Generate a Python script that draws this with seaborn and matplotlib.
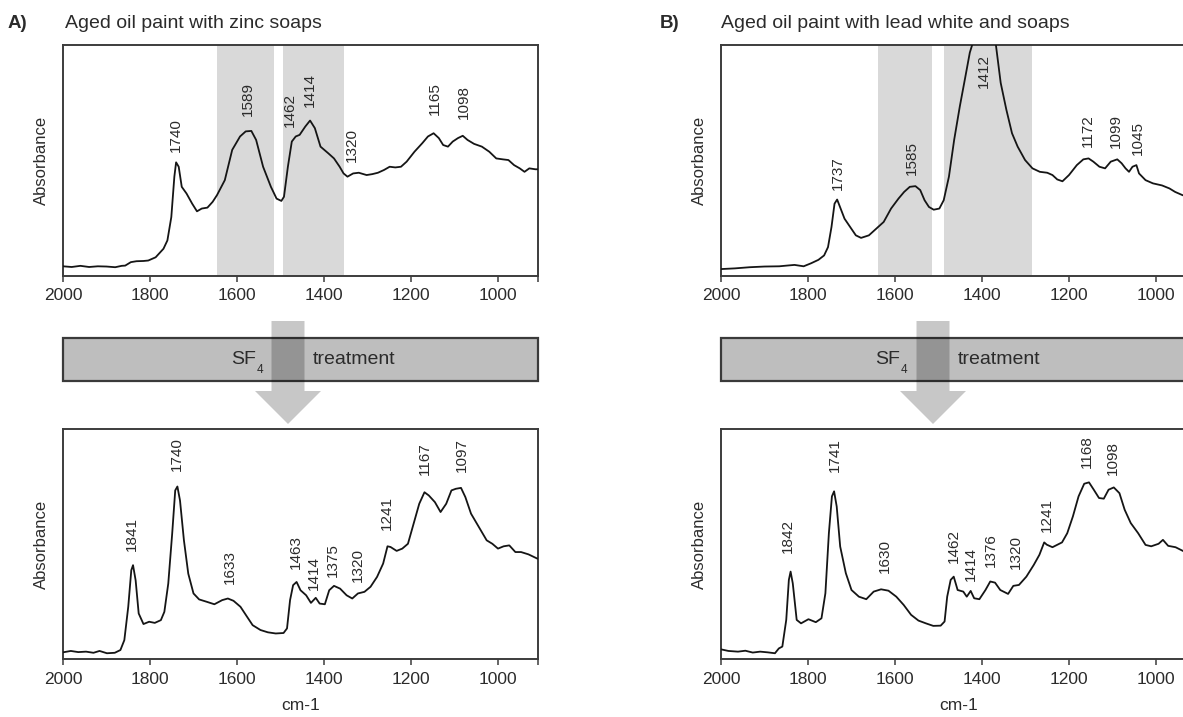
import numpy as np
import pandas as pd
import matplotlib
matplotlib.use("Agg")
import matplotlib.pyplot as plt
from matplotlib.patches import Rectangle, Polygon
import seaborn as sns

# ---------------- data ----------------
a_top_wn = [2000, 1980, 1960, 1940, 1920, 1900, 1880, 1865, 1857, 1844, 1831, 1815, 1804, 1787,
            1769, 1760, 1751, 1744, 1740, 1734, 1727, 1716, 1703, 1692, 1681, 1668, 1656, 1646,
            1628, 1611, 1593, 1580, 1567, 1556, 1540, 1522, 1509, 1498, 1492, 1483, 1474, 1465,
            1456, 1443, 1432, 1421, 1408, 1390, 1377, 1364, 1355, 1346, 1333, 1320, 1302, 1289,
            1276, 1262, 1249, 1236, 1223, 1210, 1192, 1174, 1161, 1148, 1136, 1126, 1115, 1104,
            1092, 1081, 1070, 1055, 1037, 1020, 1004, 989, 976, 963, 950, 939, 928, 914, 908]
a_top_abs = [0.042, 0.039, 0.044, 0.039, 0.042, 0.041, 0.038, 0.044, 0.045, 0.060, 0.064, 0.065,
             0.067, 0.081, 0.118, 0.154, 0.255, 0.430, 0.492, 0.473, 0.386, 0.357, 0.313, 0.280,
             0.292, 0.296, 0.321, 0.350, 0.415, 0.546, 0.604, 0.626, 0.628, 0.589, 0.473, 0.386,
             0.335, 0.325, 0.343, 0.473, 0.582, 0.604, 0.611, 0.647, 0.673, 0.640, 0.560, 0.531,
             0.509, 0.473, 0.444, 0.430, 0.444, 0.447, 0.437, 0.441, 0.447, 0.459, 0.473, 0.470,
             0.473, 0.495, 0.538, 0.575, 0.604, 0.618, 0.597, 0.567, 0.560, 0.582, 0.597, 0.607,
             0.589, 0.572, 0.560, 0.538, 0.509, 0.505, 0.502, 0.480, 0.466, 0.451, 0.466, 0.462,
             0.462]
a_top_peaks = ["1740", "1589", "1462", "1414", "1320", "1165", "1098"]
a_top_peak_x = [1740, 1575, 1478, 1433, 1336, 1144, 1078]
a_top_peak_y = [0.538, 0.691, 0.644, 0.731, 0.492, 0.698, 0.679]
a_top_bands = [(1646, 1515), (1495, 1353)]

b_top_wn = [2000, 1968, 1934, 1900, 1866, 1849, 1831, 1810, 1793, 1776, 1763, 1754, 1746, 1739,
            1733, 1725, 1716, 1703, 1690, 1678, 1660, 1643, 1626, 1609, 1592, 1579, 1566, 1553,
            1542, 1532, 1522, 1511, 1498, 1488, 1476, 1464, 1451, 1438, 1428, 1421, 1396, 1368,
            1357, 1344, 1331, 1318, 1301, 1284, 1267, 1250, 1238, 1227, 1215, 1200, 1182, 1167,
            1155, 1144, 1130, 1117, 1104, 1089, 1079, 1070, 1062, 1054, 1045, 1039, 1024, 1007,
            986, 969, 956, 939, 925, 908]
b_top_abs = [0.030, 0.033, 0.038, 0.041, 0.042, 0.045, 0.048, 0.042, 0.055, 0.070, 0.089, 0.125,
             0.212, 0.313, 0.331, 0.292, 0.248, 0.212, 0.176, 0.165, 0.176, 0.205, 0.234, 0.292,
             0.335, 0.364, 0.386, 0.389, 0.372, 0.328, 0.299, 0.287, 0.292, 0.328, 0.430, 0.589,
             0.734, 0.865, 0.967, 1.010, 1.200, 1.000, 0.836, 0.720, 0.618, 0.560, 0.502, 0.466,
             0.451, 0.447, 0.437, 0.418, 0.410, 0.437, 0.480, 0.505, 0.509, 0.495, 0.473, 0.466,
             0.495, 0.505, 0.488, 0.466, 0.451, 0.473, 0.480, 0.444, 0.415, 0.401, 0.392, 0.379,
             0.364, 0.350, 0.343, 0.340]
b_top_peaks = ["1737", "1585", "1412", "1172", "1099", "1045"]
b_top_peak_x = [1731, 1562, 1395, 1156, 1092, 1042]
b_top_peak_y = [0.372, 0.437, 0.814, 0.560, 0.553, 0.524]
b_top_bands = [(1639, 1514), (1488, 1286)]

a_bot_wn = [2000, 1982, 1965, 1947, 1930, 1916, 1899, 1881, 1868, 1859, 1850, 1843, 1839, 1833,
            1826, 1815, 1802, 1789, 1775, 1767, 1758, 1749, 1742, 1737, 1731, 1722, 1712, 1700,
            1687, 1670, 1652, 1634, 1621, 1608, 1592, 1577, 1564, 1546, 1529, 1511, 1493, 1485,
            1478, 1471, 1463, 1454, 1441, 1430, 1419, 1410, 1398, 1388, 1377, 1363, 1348, 1335,
            1322, 1307, 1293, 1278, 1264, 1254, 1247, 1233, 1220, 1207, 1194, 1181, 1169, 1159,
            1145, 1132, 1119, 1107, 1097, 1085, 1075, 1062, 1044, 1026, 1013, 1000, 987, 974,
            960, 947, 930, 909]
a_bot_abs = [0.029, 0.035, 0.030, 0.032, 0.027, 0.035, 0.025, 0.027, 0.039, 0.082, 0.227, 0.386,
             0.408, 0.342, 0.198, 0.152, 0.162, 0.157, 0.169, 0.205, 0.328, 0.545, 0.733, 0.750,
             0.689, 0.516, 0.371, 0.285, 0.259, 0.249, 0.238, 0.256, 0.263, 0.253, 0.227, 0.184,
             0.147, 0.126, 0.116, 0.111, 0.113, 0.133, 0.256, 0.321, 0.335, 0.299, 0.277, 0.244,
             0.266, 0.241, 0.238, 0.299, 0.318, 0.306, 0.277, 0.263, 0.285, 0.292, 0.314, 0.357,
             0.415, 0.490, 0.487, 0.470, 0.480, 0.501, 0.588, 0.675, 0.725, 0.711, 0.682, 0.639,
             0.675, 0.733, 0.740, 0.744, 0.704, 0.632, 0.574, 0.516, 0.501, 0.480, 0.490, 0.494,
             0.465, 0.465, 0.455, 0.436]
a_bot_peaks = ["1841", "1740", "1633", "1463", "1414", "1375", "1320", "1241", "1167", "1097"]
a_bot_peak_x = [1841, 1738, 1617, 1465, 1423, 1379, 1322, 1256, 1167, 1084]
a_bot_peak_y = [0.470, 0.819, 0.328, 0.393, 0.299, 0.357, 0.335, 0.559, 0.798, 0.812]

b_bot_wn = [2000, 1983, 1961, 1944, 1927, 1910, 1893, 1876, 1867, 1859, 1850, 1844, 1840, 1835,
            1826, 1816, 1799, 1782, 1769, 1760, 1752, 1745, 1740, 1734, 1726, 1713, 1700, 1683,
            1666, 1649, 1632, 1615, 1597, 1580, 1563, 1546, 1529, 1512, 1495, 1486, 1480, 1472,
            1465, 1456, 1443, 1435, 1426, 1418, 1406, 1392, 1381, 1370, 1358, 1340, 1328, 1315,
            1298, 1281, 1268, 1257, 1251, 1238, 1216, 1204, 1191, 1178, 1165, 1154, 1143, 1131,
            1120, 1109, 1097, 1084, 1072, 1058, 1041, 1024, 1011, 994, 984, 972, 955, 935, 908]
b_bot_abs = [0.042, 0.035, 0.032, 0.036, 0.028, 0.032, 0.029, 0.025, 0.046, 0.054, 0.170, 0.344,
             0.380, 0.329, 0.170, 0.155, 0.173, 0.160, 0.177, 0.286, 0.547, 0.707, 0.729, 0.663,
             0.489, 0.373, 0.300, 0.271, 0.260, 0.293, 0.303, 0.297, 0.271, 0.235, 0.192, 0.167,
             0.155, 0.144, 0.145, 0.163, 0.271, 0.344, 0.358, 0.300, 0.293, 0.271, 0.296, 0.264,
             0.260, 0.300, 0.337, 0.332, 0.300, 0.283, 0.318, 0.322, 0.358, 0.409, 0.453, 0.507,
             0.497, 0.486, 0.507, 0.547, 0.620, 0.707, 0.762, 0.768, 0.736, 0.700, 0.697, 0.736,
             0.746, 0.721, 0.649, 0.591, 0.547, 0.496, 0.490, 0.501, 0.518, 0.492, 0.486, 0.467,
             0.450]
b_bot_peaks = ["1842", "1741", "1630", "1462", "1414", "1376", "1320", "1241", "1168", "1098"]
b_bot_peak_x = [1846, 1739, 1623, 1465, 1426, 1379, 1321, 1251, 1158, 1098]
b_bot_peak_y = [0.460, 0.811, 0.373, 0.417, 0.337, 0.402, 0.390, 0.554, 0.830, 0.801]

x_ticks = [2000, 1800, 1600, 1400, 1200, 1000]
x_left, x_right = 2000, 908

titles = ["Aged oil paint with zinc soaps", "Aged oil paint with lead white and soaps"]
panel_letters = ["A)", "B)"]

# ---------------- style ----------------
sns.set_theme(style="white")
plt.rcParams["font.family"] = ["Liberation Sans", "DejaVu Sans"]
TXT = "#2b2b2b"
SPINE = "#3c3c3c"

W, H = 1183, 717
fig = plt.figure(figsize=(W / 100, H / 100), dpi=100)
fig.patch.set_facecolor("white")


def px_rect(x0, y0, x1, y1):
    return [x0 / W, 1 - y1 / H, (x1 - x0) / W, (y1 - y0) / H]


def draw_panel(rect, wn, ab, peaks, px, py, bands=None, xlabel=False):
    ax = fig.add_axes(rect)
    df = pd.DataFrame({"wn": wn, "abs": ab})
    if bands:
        for b0, b1 in bands:
            ax.axvspan(b1, b0, color="#d9d9d9", lw=0, zorder=0)
    sns.lineplot(data=df, x="wn", y="abs", ax=ax, color="#151515", lw=1.3,
                 estimator=None, sort=False, zorder=3)
    ax.set_xlim(x_left, x_right)
    ax.set_ylim(0, 1)
    for lab, xx, yy in zip(peaks, px, py):
        ax.text(xx, yy, lab, rotation=90, ha="center", va="bottom",
                fontsize=11, color=TXT, zorder=4)
    ax.set_xticks(x_ticks + [x_right])
    ax.set_xticklabels([str(t) for t in x_ticks] + [""], fontsize=12.5, color=TXT)
    ax.set_yticks([])
    ax.tick_params(axis="x", direction="out", length=4, width=1.1, color=SPINE,
                   bottom=True, pad=5)
    for s in ax.spines.values():
        s.set_color(SPINE)
        s.set_linewidth(1.4)
    ax.set_ylabel("Absorbance", fontsize=12, color=TXT, labelpad=10)
    ax.set_xlabel("cm-1" if xlabel else "", fontsize=12.5, color=TXT, labelpad=8)
    ax.set_facecolor("white")
    return ax


# Panels
draw_panel(px_rect(63, 45, 538, 276), a_top_wn, a_top_abs, a_top_peaks,
           a_top_peak_x, a_top_peak_y, bands=a_top_bands)
draw_panel(px_rect(721, 45, 1196, 276), b_top_wn, b_top_abs, b_top_peaks,
           b_top_peak_x, b_top_peak_y, bands=b_top_bands)
draw_panel(px_rect(63, 429, 538, 659), a_bot_wn, a_bot_abs, a_bot_peaks,
           a_bot_peak_x, a_bot_peak_y, xlabel=True)
draw_panel(px_rect(721, 429, 1196, 659), b_bot_wn, b_bot_abs, b_bot_peaks,
           b_bot_peak_x, b_bot_peak_y, xlabel=True)

# Overlay for treatment boxes, arrows and titles (pixel coordinates)
ov = fig.add_axes([0, 0, 1, 1], zorder=10)
ov.set_xlim(0, W)
ov.set_ylim(H, 0)
ov.axis("off")
ov.patch.set_alpha(0)

for (bx0, bx1, acx, sf_x, four_x, tr_x) in [(63, 538, 288, 231, 257, 313),
                                              (721, 1200, 933, 875, 901, 958)]:
    ov.add_patch(Rectangle((bx0, 338), bx1 - bx0, 43, fc="#bebebe", ec="#3a3a3a",
                           lw=1.6, zorder=1))
    shaft_w, head_w = 33, 66
    poly = [(acx - shaft_w / 2, 321), (acx + shaft_w / 2, 321), (acx + shaft_w / 2, 391),
            (acx + head_w / 2, 391), (acx, 424), (acx - head_w / 2, 391),
            (acx - shaft_w / 2, 391)]
    ov.add_patch(Polygon(poly, closed=True, fc="black", alpha=0.22, lw=0, zorder=2))
    ov.text(sf_x, 360, "SF", fontsize=14, color=TXT, ha="left", va="center", zorder=3)
    ov.text(four_x, 370, "4", fontsize=8.5, color=TXT, ha="left", va="center", zorder=3)
    ov.text(tr_x, 359, "treatment", fontsize=14, color=TXT, ha="left", va="center", zorder=3)

ov.text(8, 23, panel_letters[0], fontsize=13.5, fontweight="bold", color=TXT,
        ha="left", va="center")
ov.text(65, 23, titles[0], fontsize=14, color=TXT, ha="left", va="center")
ov.text(660, 23, panel_letters[1], fontsize=13.5, fontweight="bold", color=TXT,
        ha="left", va="center")
ov.text(721, 23, titles[1], fontsize=14, color=TXT, ha="left", va="center")

fig.savefig("out.png", dpi=100, facecolor="white")
